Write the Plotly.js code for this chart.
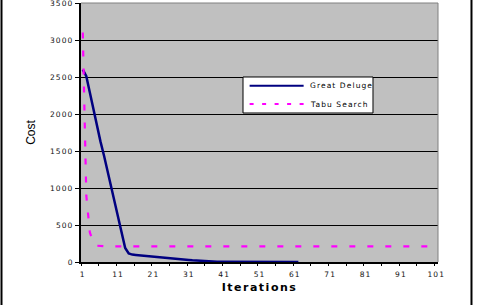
<!DOCTYPE html>
<html>
<head>
<meta charset="utf-8">
<script src="https://cdn.plot.ly/plotly-3.0.1.min.js"></script>
<style>
  html, body { margin: 0; padding: 0; background: #fff; }
  #chart { width: 481px; height: 305px; }
  .xtick text, .ytick text { letter-spacing: 1.1px; }
  .annotation-text { letter-spacing: 1.1px; }
  .g-xtitle text { letter-spacing: 1.5px; }
</style>
</head>
<body>
<div id="chart"></div>
<script>
// ---- data ----
const greatDeluge = [
  2600, 2510, 2290, 2060, 1830, 1630, 1440, 1230, 1030, 800,
  580, 380, 190, 115, 100, 96, 92, 88, 84, 80,
  76, 72, 68, 63, 58, 53, 48, 43, 38, 33,
  28, 23, 19, 15, 11, 8, 6, 5, 5, 4,
  4, 4, 3, 3, 3, 3, 3, 3, 2, 2,
  2, 2, 2, 2, 2, 2, 1, 1, 1, 1,
  1, 1
];
const tabuSearch = [
  3100, 900, 400, 260, 220, 215, 212, 210, 210, 210,
  210, 210, 210, 210, 210, 210, 210, 210, 210, 210,
  210, 210, 210, 210, 210, 210, 210, 210, 210, 210,
  210, 210, 210, 210, 210, 210, 210, 210, 210, 210,
  210, 210, 210, 210, 210, 210, 210, 210, 210, 210,
  210, 210, 210, 210, 210, 210, 210, 210, 210, 210,
  210, 210, 210, 210, 210, 210, 210, 210, 210, 210,
  210, 210, 210, 210, 210, 210, 210, 210, 210, 210,
  210, 210, 210, 210, 210, 210, 210, 210, 210, 210,
  210, 210, 210, 210, 210, 210, 210, 210, 210, 210,
  210
];
const xTickLabels = ["1", "11", "21", "31", "41", "51", "61", "71", "81", "91", "101"];
const yTickValues = [0, 500, 1000, 1500, 2000, 2500, 3000, 3500];
const seriesNames = ["Great Deluge", "Tabu Search"];
const seriesColors = ["#000080", "#ff00ff"];

const xTickVals = xTickLabels.map(Number);
const minorTickVals = [];
for (let i = 0; i <= 20; i++) minorTickVals.push(0.5 + 5 * i);

const gdX = greatDeluge.map((_, i) => i + 1);
const tsX = tabuSearch.map((_, i) => i + 1);

const fontFam = "DejaVu Sans, Arial, sans-serif";
const tickFont = { family: fontFam, size: 7.5, color: "#111" };

const traces = [
  {
    x: gdX, y: greatDeluge, type: "scatter", mode: "lines", name: seriesNames[0],
    line: { color: seriesColors[0], width: 2.5 }
  },
  {
    x: tsX, y: tabuSearch, type: "scatter", mode: "lines", name: seriesNames[1],
    line: { color: seriesColors[1], width: 2.2, dash: "6px,12px" }
  },
  {
    // carrier for minor tick marks on the category boundaries
    x: [0.5], y: [0], xaxis: "x2", type: "scatter", mode: "markers",
    marker: { opacity: 0 }, showlegend: false, hoverinfo: "skip"
  }
];

// legend box (paper coordinates)
const lg = { x0: 0.4538, x1: 0.8179, y0: 0.5753, y1: 0.7143, sx0: 0.4723, sx1: 0.6236, tx: 0.6387, rows: [0.6807, 0.6100] };

const layout = {
  width: 481, height: 305,
  margin: { l: 81, r: 43, t: 3, b: 43, pad: 0 },
  paper_bgcolor: "#ffffff",
  plot_bgcolor: "#c0c0c0",
  showlegend: false,
  xaxis: {
    range: [0.5, 101.5], tickmode: "array", tickvals: xTickVals, ticktext: xTickLabels,
    ticks: "outside", ticklen: 4, tickcolor: "rgba(0,0,0,0)",
    showgrid: false, zeroline: false,
    showline: true, linecolor: "#000", linewidth: 1.5,
    tickfont: tickFont, ticklabeloverflow: "allow",
    title: { text: "Iterations", font: { family: fontFam, size: 11, color: "#000", weight: "bold" }, standoff: 6 }
  },
  xaxis2: {
    overlaying: "x", range: [0.5, 101.5], tickmode: "array", tickvals: minorTickVals,
    ticks: "outside", ticklen: 3, tickcolor: "#000", tickwidth: 1,
    showticklabels: false, showgrid: false, zeroline: false, showline: false, side: "bottom"
  },
  yaxis: {
    range: [0, 3500], tickmode: "array", tickvals: yTickValues,
    ticks: "outside", ticklen: 4, tickcolor: "#000", tickwidth: 1,
    showgrid: true, gridcolor: "#000", gridwidth: 1,
    zeroline: false, showline: true, linecolor: "#000", linewidth: 2,
    tickfont: tickFont, ticklabeloverflow: "allow",
    title: { text: "Cost", font: { family: "Liberation Sans Narrow, Arial Narrow, Arial, sans-serif", size: 12, color: "#000" }, standoff: 12 }
  },
  shapes: [
    { type: "line", xref: "paper", yref: "paper", x0: 0, x1: 1, y0: 1, y1: 1, line: { color: "#808080", width: 1 }, layer: "above" },
    { type: "line", xref: "paper", yref: "paper", x0: 1, x1: 1, y0: 0, y1: 1, line: { color: "#808080", width: 1 }, layer: "above" },
    { type: "line", xref: "paper", yref: "paper", x0: -0.2227, x1: -0.2227, y0: -0.3, y1: 1.1, line: { color: "#000", width: 2 } },
    { type: "line", xref: "paper", yref: "paper", x0: 1.0938, x1: 1.0938, y0: -0.3, y1: 1.1, line: { color: "#000", width: 2 } },
    // legend
    { type: "rect", xref: "paper", yref: "paper", x0: lg.x0, x1: lg.x1, y0: lg.y0, y1: lg.y1, fillcolor: "#ffffff", line: { color: "#000", width: 1 }, layer: "above" },
    { type: "line", xref: "paper", yref: "paper", x0: lg.sx0, x1: lg.sx1, y0: lg.rows[0], y1: lg.rows[0], line: { color: seriesColors[0], width: 2 }, layer: "above" },
    { type: "line", xref: "paper", yref: "paper", x0: lg.sx0, x1: lg.sx1, y0: lg.rows[1], y1: lg.rows[1], line: { color: seriesColors[1], width: 2, dash: "4px,8.5px" }, layer: "above" }
  ],
  annotations: seriesNames.map((name, i) => ({
    xref: "paper", yref: "paper", x: lg.tx, y: lg.rows[i], xanchor: "left", yanchor: "middle",
    text: name, showarrow: false, borderpad: 0,
    font: { family: fontFam, size: 7.5, color: "#000" }
  }))
};

Plotly.newPlot("chart", traces, layout, { staticPlot: true, displayModeBar: false });
</script>
</body>
</html>
